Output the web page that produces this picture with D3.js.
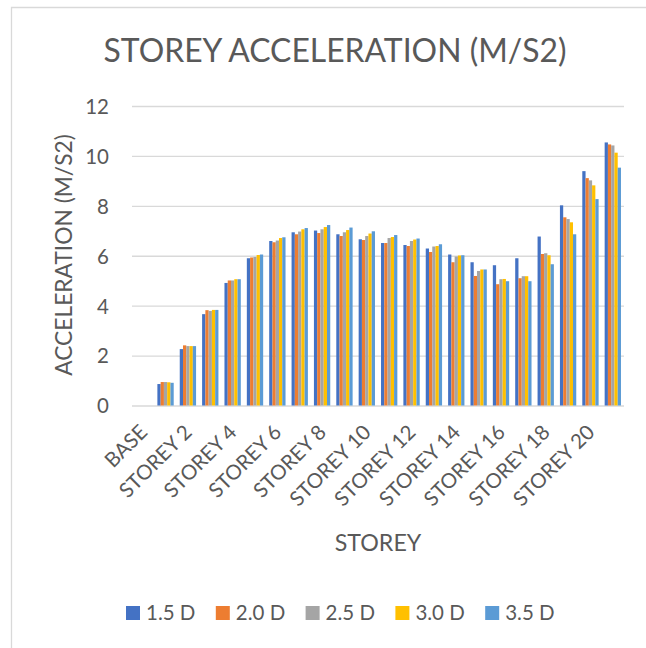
<!DOCTYPE html>
<html>
<head>
<meta charset="utf-8">
<script src="https://cdn.jsdelivr.net/npm/d3@7"></script>
<style>
  html, body { margin: 0; padding: 0; background: #ffffff; }
  svg { display: block; }
  text { font-family: Lato, "Open Sans", sans-serif; font-weight: 400; fill: #595959; }
</style>
</head>
<body>
<svg id="chart" width="646" height="648"></svg>
<script>
// Categories along the x axis (the first slot is an empty category)
const categories = ["", "BASE", "STOREY 1", "STOREY 2", "STOREY 3", "STOREY 4", "STOREY 5",
  "STOREY 6", "STOREY 7", "STOREY 8", "STOREY 9", "STOREY 10", "STOREY 11", "STOREY 12",
  "STOREY 13", "STOREY 14", "STOREY 15", "STOREY 16", "STOREY 17", "STOREY 18",
  "STOREY 19", "STOREY 20"];

// Labels printed under the axis (every second category)
const tickLabels = ["BASE", "STOREY 2", "STOREY 4", "STOREY 6", "STOREY 8", "STOREY 10",
  "STOREY 12", "STOREY 14", "STOREY 16", "STOREY 18", "STOREY 20"];

const yTicks = [0, 2, 4, 6, 8, 10, 12];

const seriesNames = ["1.5 D", "2.0 D", "2.5 D", "3.0 D", "3.5 D"];
const seriesColors = ["#4472C4", "#ED7D31", "#A5A5A5", "#FFC000", "#5B9BD5"];

// Storey accelerations (m/s2), BASE .. STOREY 20
const d15 = [0.86, 2.26, 3.66, 4.91, 5.90, 6.59, 6.94, 7.01, 6.86, 6.66, 6.51, 6.43, 6.29, 6.05, 5.74, 5.62, 5.90, 6.77, 8.02, 9.39, 10.54];
const d20 = [0.94, 2.41, 3.82, 5.01, 5.93, 6.54, 6.86, 6.91, 6.79, 6.63, 6.51, 6.39, 6.15, 5.74, 5.19, 4.86, 5.10, 6.07, 7.54, 9.11, 10.46];
const d25 = [0.94, 2.38, 3.79, 5.01, 5.95, 6.61, 6.97, 7.06, 6.94, 6.79, 6.71, 6.59, 6.37, 5.97, 5.39, 5.06, 5.18, 6.10, 7.47, 9.02, 10.42];
const d30 = [0.93, 2.38, 3.83, 5.06, 6.03, 6.71, 7.06, 7.15, 7.03, 6.89, 6.75, 6.65, 6.39, 6.01, 5.45, 5.07, 5.18, 6.02, 7.34, 8.82, 10.13];
const d35 = [0.91, 2.38, 3.83, 5.06, 6.05, 6.74, 7.11, 7.23, 7.13, 6.98, 6.83, 6.69, 6.46, 6.02, 5.45, 4.98, 4.98, 5.66, 6.86, 8.27, 9.53];

const seriesValues = [d15, d20, d25, d30, d35];

// Rows: one per storey that carries values
const rows = categories.slice(1).map((c, i) => ({
  cat: c,
  vals: seriesNames.map((s, j) => ({ key: s, value: seriesValues[j][i], color: seriesColors[j] }))
}));

const svg = d3.select("#chart");
const gridColor = "#d9d9d9";

// Outer chart frame
svg.append("path")
  .attr("d", "M11.5,648 V7.5 H646")
  .attr("fill", "none")
  .attr("stroke", gridColor)
  .attr("stroke-width", 1.3);

// Font scale so the title spans its intended width
const title = svg.append("text")
  .attr("text-anchor", "middle")
  .attr("x", 335)
  .attr("y", 62)
  .style("font-size", "35px")
  .text("STOREY ACCELERATION (M/S2)");
const k = 463 / title.node().getComputedTextLength();
title.style("font-size", (35 * k) + "px");

const plotL = 132, plotR = 624;

const x0 = d3.scaleBand().domain(categories).range([plotL, plotR])
  .paddingInner(0.27).paddingOuter(0.135);
const x1 = d3.scaleBand().domain(seriesNames).range([0, x0.bandwidth()]);
const y = d3.scaleLinear().domain([0, 12]).range([405.5, 106]);

// Y axis with horizontal gridlines
const yAxis = svg.append("g")
  .attr("transform", `translate(${plotL},0)`)
  .call(d3.axisLeft(y).tickValues(yTicks).tickSize(-(plotR - plotL)).tickPadding(23));
yAxis.select(".domain").remove();
yAxis.selectAll(".tick line").attr("stroke", gridColor).attr("stroke-width", 1.3);
yAxis.selectAll(".tick text")
  .style("font-size", (22.5 * k) + "px")
  .style("font-family", "Lato, sans-serif")
  .attr("fill", "#595959")
  .attr("dy", "0.36em");

// Bars
svg.append("g")
  .selectAll("g")
  .data(rows)
  .join("g")
  .attr("transform", d => `translate(${x0(d.cat)},0)`)
  .selectAll("rect")
  .data(d => d.vals)
  .join("rect")
  .attr("x", d => x1(d.key))
  .attr("width", x1.bandwidth())
  .attr("y", d => y(d.value))
  .attr("height", d => y(0) - y(d.value))
  .attr("fill", d => d.color);

// X axis labels, rotated
const xAxis = svg.append("g")
  .attr("transform", `translate(0,${y(0)})`)
  .call(d3.axisBottom(x0).tickValues(tickLabels).tickSize(0));
xAxis.select(".domain").remove();
xAxis.selectAll(".tick text")
  .style("font-size", (22.5 * k) + "px")
  .style("font-family", "Lato, sans-serif")
  .attr("fill", "#595959")
  .attr("text-anchor", "end")
  .attr("x", 0).attr("y", 0).attr("dy", 0)
  .attr("transform", "translate(-17,28) rotate(-45)");

// Axis titles
svg.append("text")
  .attr("text-anchor", "middle")
  .attr("transform", "translate(71.5,255) rotate(-90)")
  .style("font-size", (25 * k) + "px")
  .text("ACCELERATION (M/S2)");

svg.append("text")
  .attr("text-anchor", "middle")
  .attr("x", (plotL + plotR) / 2)
  .attr("y", 550.5)
  .style("font-size", (25.5 * k) + "px")
  .text("STOREY");

// Legend
const legend = svg.append("g").attr("transform", "translate(126,606)");
const items = legend.selectAll("g")
  .data(seriesNames)
  .join("g")
  .attr("transform", (d, i) => `translate(${i * 89.8},0)`);
items.append("rect")
  .attr("width", 14).attr("height", 14)
  .attr("fill", (d, i) => seriesColors[i]);
items.append("text")
  .attr("x", 20).attr("y", 14)
  .style("font-size", (22.5 * k) + "px")
  .text(d => d);
</script>
</body>
</html>
